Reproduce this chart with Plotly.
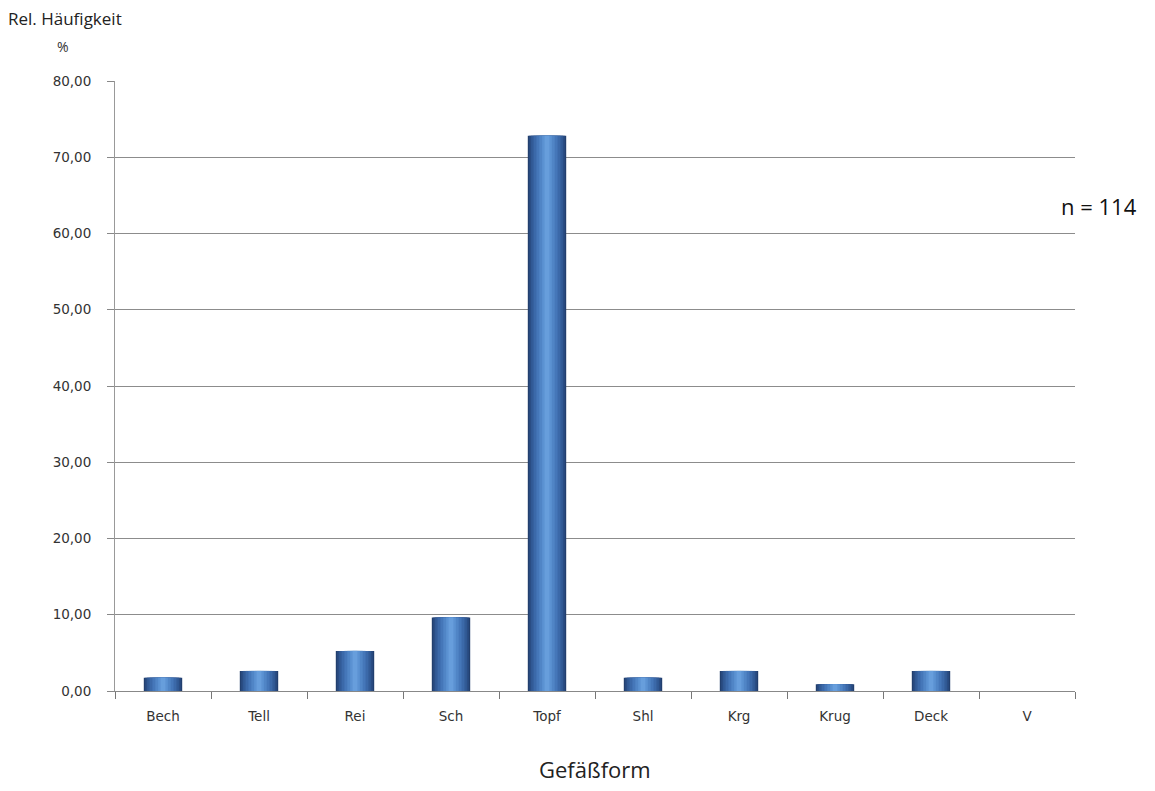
import plotly.graph_objects as go

categories = ["Bech", "Tell", "Rei", "Sch", "Topf", "Shl", "Krg", "Krug", "Deck", "V"]
values = [1.75, 2.63, 5.26, 9.65, 72.81, 1.75, 2.63, 0.88, 2.63, 0.0]
y_ticks = [0, 10, 20, 30, 40, 50, 60, 70, 80]

fig = go.Figure()
# layered bars to imitate the horizontal cylinder-like gradient
layers = [
    (0.40, "#223f6e"),
    (0.37, "#2a4d84"),
    (0.33, "#325b97"),
    (0.28, "#3b69a9"),
    (0.22, "#4577b9"),
    (0.16, "#5085c6"),
    (0.10, "#5b92d2"),
    (0.05, "#679edc"),
]
for w, c in layers:
    fig.add_trace(go.Bar(x=categories, y=values, width=w, marker=dict(color=c, line=dict(width=0)),
                         hoverinfo="skip", showlegend=False))

fig.update_layout(
    width=1139, height=775,
    barmode="overlay",
    plot_bgcolor="white", paper_bgcolor="white",
    margin=dict(l=107, r=72, t=73, b=92),
    separators=",.",
    font=dict(family="DejaVu Sans", color="#222"),
    showlegend=False,
)
fig.update_xaxes(
    type="category", tickson="boundaries", ticks="outside", ticklen=7, tickcolor="#777",
    showline=True, linecolor="#888", linewidth=1, showgrid=False,
    tickfont=dict(size=13.5, family="DejaVu Sans", color="#333"),
    ticklabelstandoff=13,
    range=[-0.5, 9.5],
)
fig.update_yaxes(
    range=[0, 80], tickvals=y_ticks, tickformat=".2f", ticks="outside", ticklen=7, tickcolor="#888",
    showline=True, linecolor="#999", linewidth=1,
    showgrid=True, gridcolor="#8c8c8c", gridwidth=1, zeroline=False,
    tickfont=dict(size=13.5, family="DejaVu Sans", color="#333"),
    ticklabelstandoff=13,
)
fig.add_annotation(text="Rel. Häufigkeit", xref="paper", yref="paper", x=-0.1135, y=1.0, yshift=49,
                   xanchor="left", yanchor="bottom", showarrow=False,
                   font=dict(size=17, family="Open Sans", color="#222"))
fig.add_annotation(text="%", xref="paper", yref="paper", x=-0.054, y=1.0, yshift=23,
                   xanchor="center", yanchor="bottom", showarrow=False,
                   font=dict(size=14, family="Open Sans", color="#333"))
fig.add_annotation(text="n = 114", xref="paper", yref="paper", x=1.0, y=0.795,
                   xanchor="left", yanchor="middle", xshift=-16, showarrow=False,
                   font=dict(size=22, family="Open Sans", color="#111"))
fig.add_annotation(text="Gefäßform", xref="paper", yref="paper", x=0.5, y=0, yshift=-61,
                   xanchor="center", yanchor="top", showarrow=False,
                   font=dict(size=22, family="Open Sans", color="#222"))

fig.write_html("out.html")
